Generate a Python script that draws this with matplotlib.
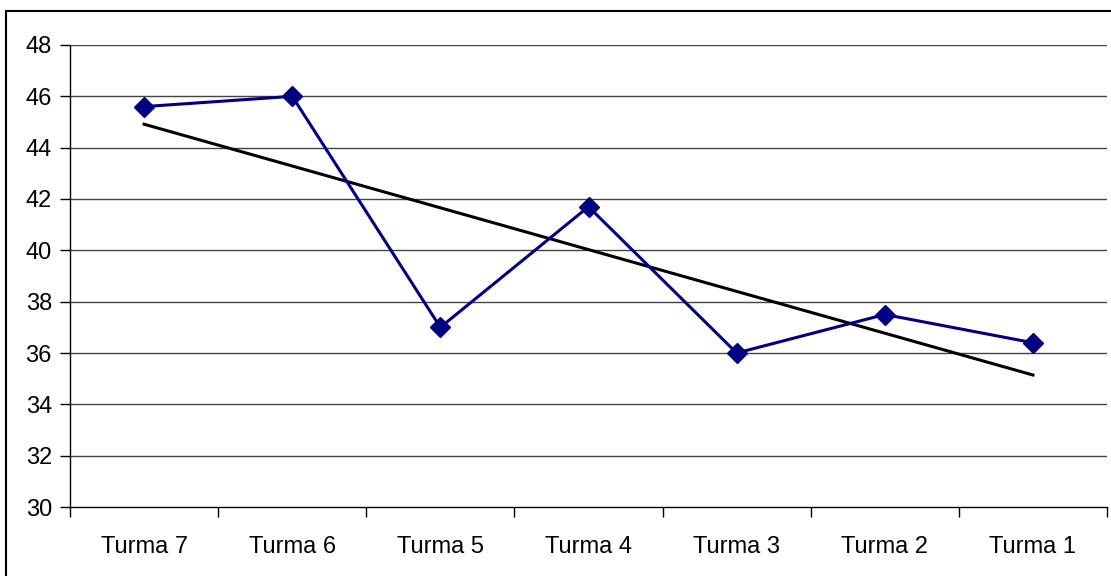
import numpy as np
import matplotlib
matplotlib.use("Agg")
import matplotlib.pyplot as plt
from matplotlib.patches import Rectangle

plt.rcParams['font.family'] = ['Liberation Sans', 'DejaVu Sans']

categories = ["Turma 7", "Turma 6", "Turma 5", "Turma 4", "Turma 3", "Turma 2", "Turma 1"]
values = [45.6, 46.0, 37.0, 41.7, 36.0, 37.5, 36.4]
y_ticks = [30, 32, 34, 36, 38, 40, 42, 44, 46, 48]

W, H = 1111, 576
fig = plt.figure(figsize=(W / 100, H / 100), dpi=100)
ax = fig.add_axes([70 / W, 1 - 507 / H, (1107 - 70) / W, (507 - 45) / H])

x = np.arange(len(categories))

# horizontal gridlines
for t in y_ticks[1:]:
    ax.axhline(t, color="#444444", lw=1.0, zorder=1)

# data series
ax.plot(x, values, color="#000080", lw=2.2, marker="D", markersize=10,
        markerfacecolor="#000080", markeredgecolor="#000080", zorder=3)

# linear trend
coef = np.polyfit(x, values, 1)
ax.plot(x, np.polyval(coef, x), color="black", lw=2.2, zorder=2)

ax.set_xlim(-0.5, len(categories) - 0.5)
ax.set_ylim(30, 48)
ax.set_yticks(y_ticks)
ax.set_yticklabels([str(t) for t in y_ticks], fontsize=17)

# category ticks at boundaries, labels centered
ax.set_xticks(np.arange(-0.5, len(categories) + 0.5, 1.0))
ax.set_xticklabels([])
ax.set_xticks(x, minor=True)
ax.set_xticklabels(categories, minor=True, fontsize=17)
ax.tick_params(axis="x", which="major", length=7, width=1, color="black", direction="out")
ax.tick_params(axis="x", which="minor", length=0, pad=21)
ax.tick_params(axis="y", length=7, width=1, direction="out", pad=6)

for s in ["top", "right"]:
    ax.spines[s].set_visible(False)
ax.spines["left"].set_color("black")
ax.spines["bottom"].set_color("black")
ax.spines["left"].set_linewidth(1)
ax.spines["bottom"].set_linewidth(1)

# outer chart frame
fig.patches.append(Rectangle((6 / W, -0.1), 1.2, 1 - 10.5 / H + 0.1,
                             transform=fig.transFigure, fill=False,
                             edgecolor="black", lw=1.5))

fig.savefig("out.png", dpi=100)
